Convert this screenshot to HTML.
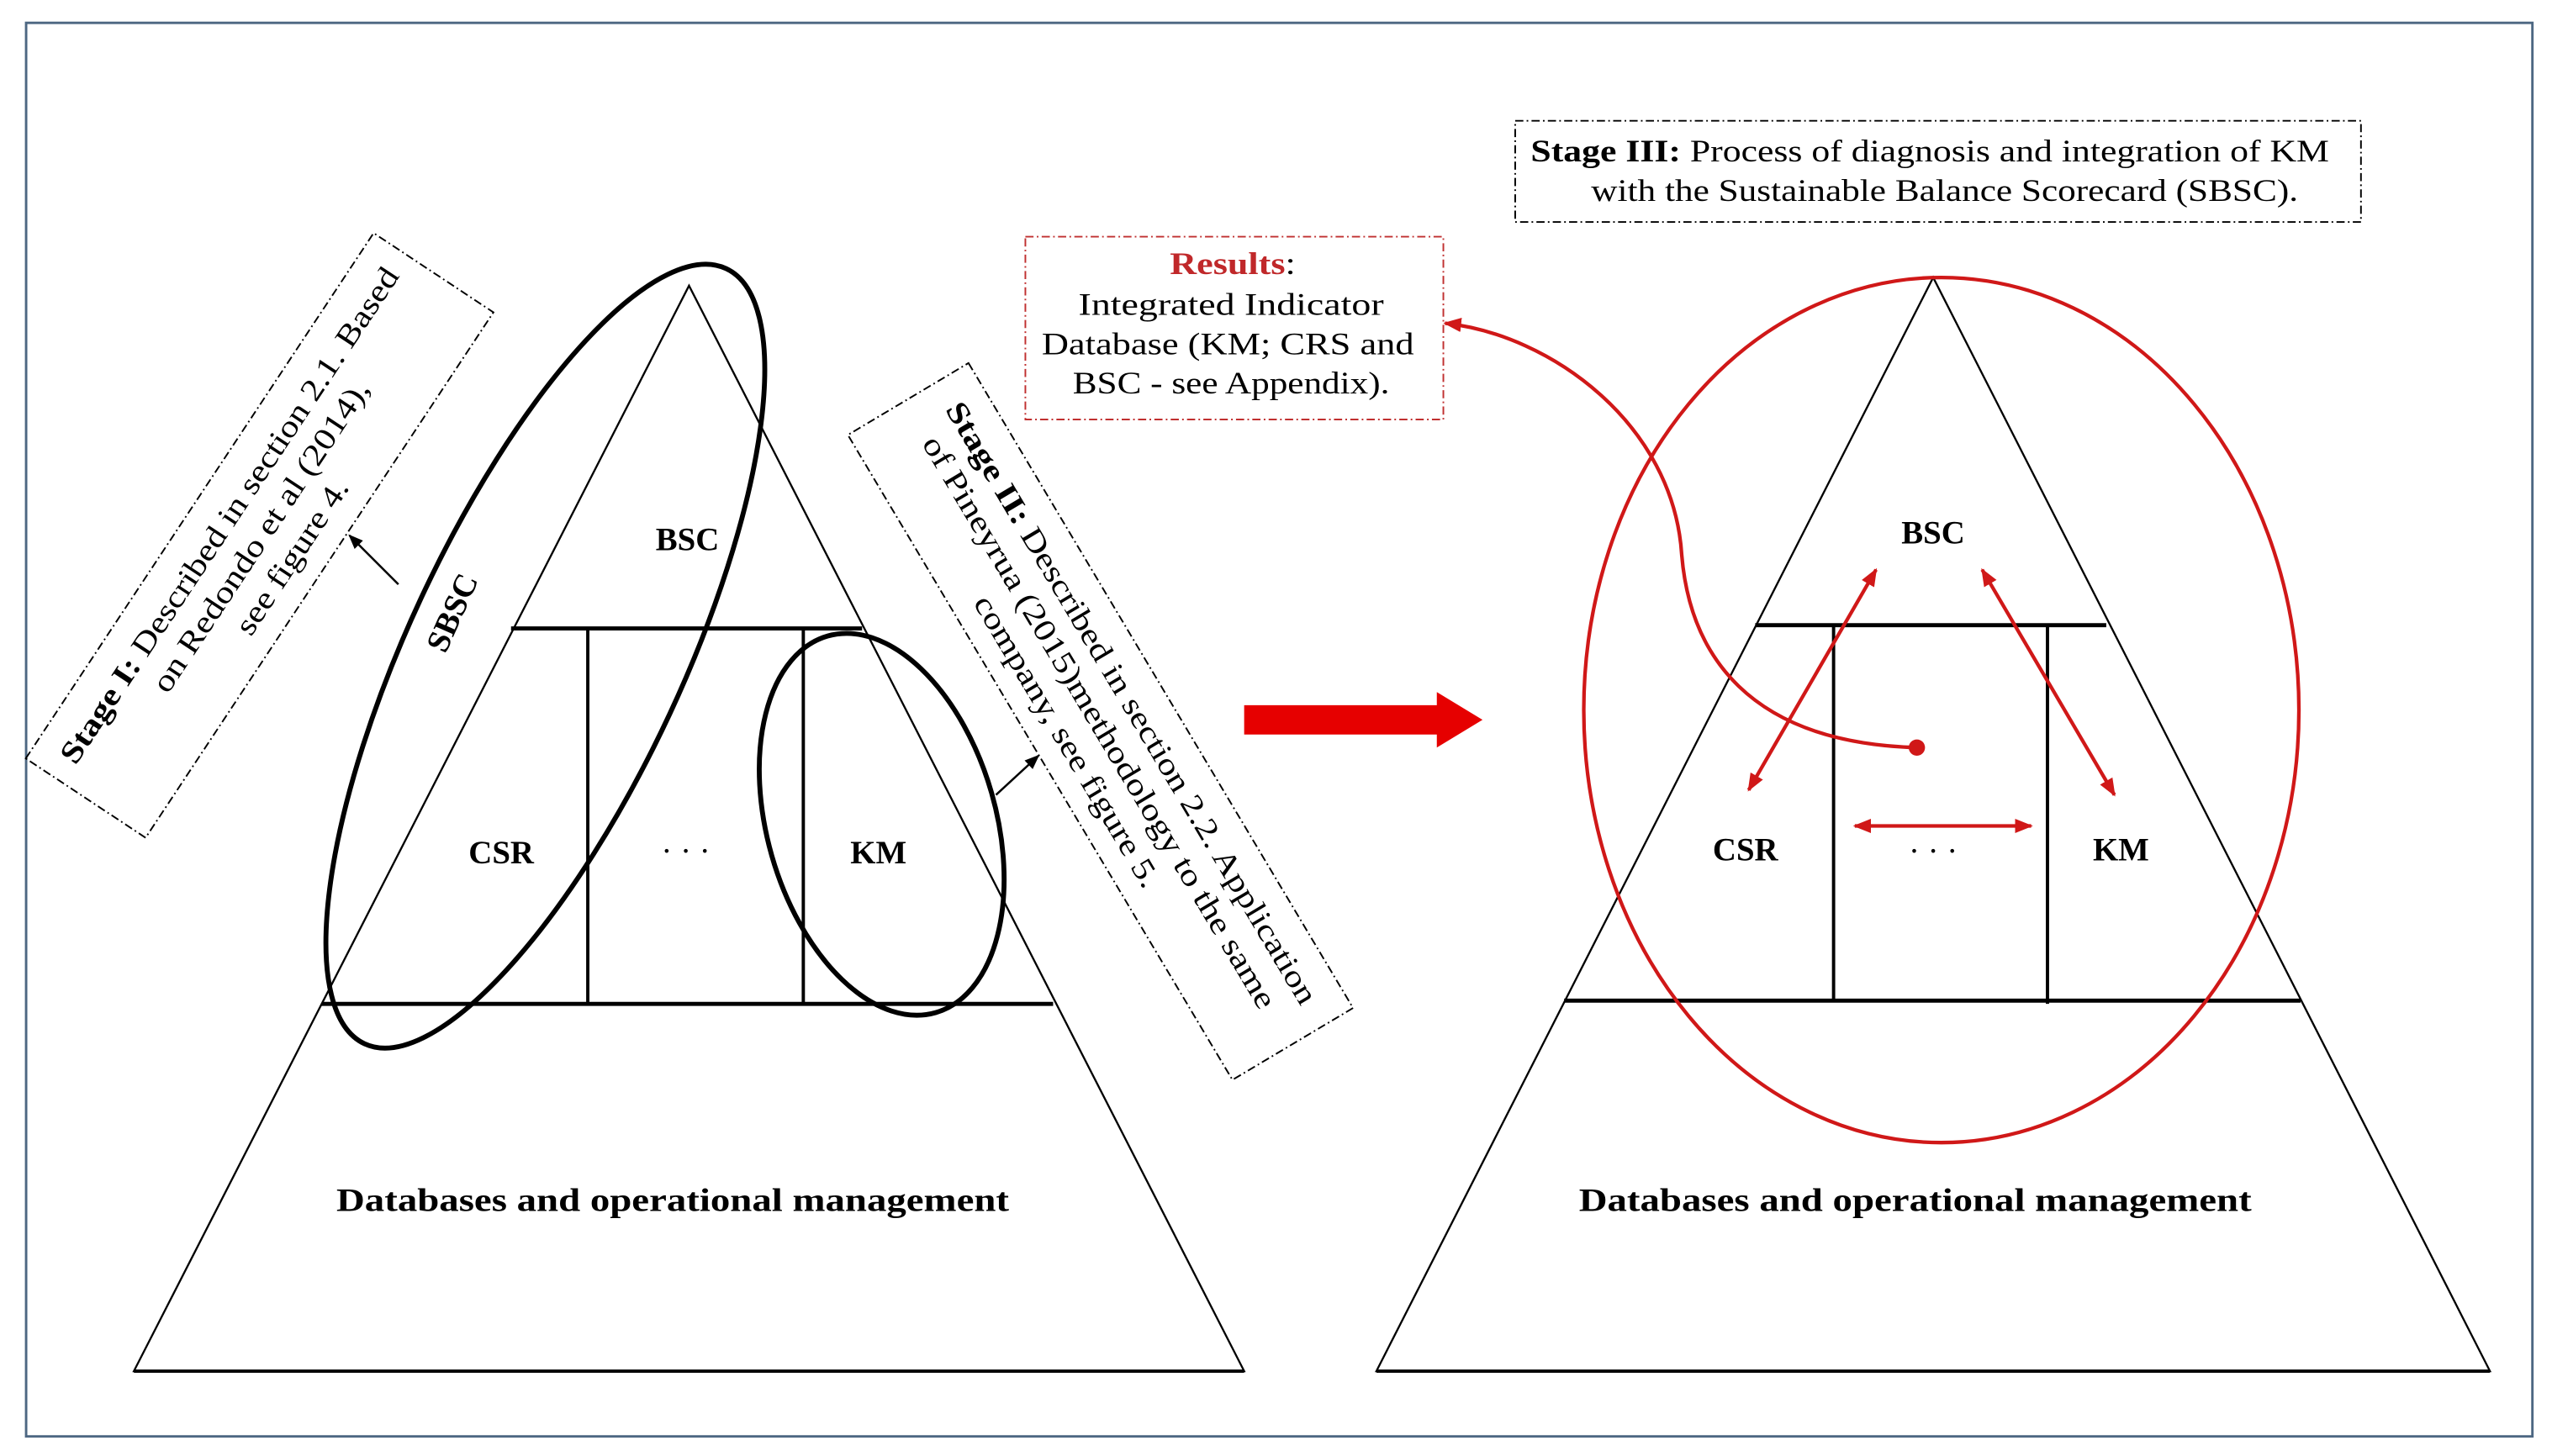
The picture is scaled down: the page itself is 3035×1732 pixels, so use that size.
<!DOCTYPE html>
<html><head><meta charset="utf-8"><style>
html,body{margin:0;padding:0;background:#fff;}
svg{display:block;}
text{font-family:"Liberation Serif",serif;}
</style></head><body>
<svg width="3035" height="1732" viewBox="0 0 1563 892" preserveAspectRatio="none" xmlns="http://www.w3.org/2000/svg">
<defs>
<marker id="ah" viewBox="0 0 10 10" refX="9" refY="5" markerWidth="7" markerHeight="7" orient="auto-start-reverse"><path d="M0,1 L10,5 L0,9 z" fill="#000"/></marker>
<marker id="rh" viewBox="0 0 10 10" refX="9" refY="5" markerWidth="5" markerHeight="5" orient="auto-start-reverse"><path d="M0,1 L10,5 L0,9 z" fill="#d01818"/></marker>
</defs>
<rect x="0" y="0" width="1563" height="892" fill="#fff"/>
<rect x="16" y="14" width="1535" height="866" fill="none" stroke="#4d6782" stroke-width="1.5"/>

<!-- LEFT -->
<polygon points="422,175 82,840 762,840" fill="none" stroke="#000" stroke-width="1.2"/>
<line x1="82" y1="840" x2="762" y2="840" stroke="#000" stroke-width="2"/>
<line x1="313" y1="385" x2="528" y2="385" stroke="#000" stroke-width="2.5"/>
<line x1="197" y1="615" x2="645" y2="615" stroke="#000" stroke-width="2.5"/>
<line x1="360" y1="385" x2="360" y2="615" stroke="#000" stroke-width="2"/>
<line x1="492" y1="385" x2="492" y2="615" stroke="#000" stroke-width="2"/>
<g font-weight="bold" font-size="20" text-anchor="middle">
<text x="421" y="337">BSC</text>
<text x="307" y="529">CSR</text>
<text x="538" y="529">KM</text>
<text x="412" y="742" textLength="412" lengthAdjust="spacingAndGlyphs">Databases and operational management</text>
<text x="1184" y="333">BSC</text>
<text x="1069" y="527">CSR</text>
<text x="1299" y="527">KM</text>
<text x="1173" y="742" textLength="412" lengthAdjust="spacingAndGlyphs">Databases and operational management</text>
</g>
<text x="420" y="528" font-size="20" text-anchor="middle">· · ·</text>
<text x="1184" y="528" font-size="20" text-anchor="middle">· · ·</text>

<ellipse cx="334" cy="402" rx="84" ry="262" transform="rotate(25 334 402)" fill="none" stroke="#000" stroke-width="3"/>
<text x="0" y="0" font-size="20" font-weight="bold" text-anchor="middle" transform="translate(283,378) rotate(-66)">SBSC</text>
<ellipse cx="540" cy="505" rx="70" ry="120" transform="rotate(-16 540 505)" fill="none" stroke="#000" stroke-width="3"/>

<!-- Stage I -->
<g transform="translate(159,328) rotate(-56.5)" font-size="19">
<rect x="-193" y="-44" width="386" height="88" fill="none" stroke="#000" stroke-width="1" stroke-dasharray="5,2,1,2"/>
<text x="0" y="-16" text-anchor="middle" textLength="360" lengthAdjust="spacingAndGlyphs"><tspan font-weight="bold">Stage I:</tspan> Described in section 2.1. Based</text>
<text x="0" y="7" text-anchor="middle" textLength="225" lengthAdjust="spacingAndGlyphs">on Redondo et al (2014),</text>
<text x="0" y="30" text-anchor="middle" textLength="110" lengthAdjust="spacingAndGlyphs">see figure 4.</text>
</g>
<line x1="244" y1="358" x2="214" y2="328" stroke="#000" stroke-width="1.3" marker-end="url(#ah)"/>

<!-- Stage II -->
<g transform="translate(674,442) rotate(59.2)" font-size="19">
<rect x="-230" y="-43" width="460" height="86" fill="none" stroke="#000" stroke-width="1" stroke-dasharray="5,2,1,2"/>
<text x="0" y="-16" text-anchor="middle" textLength="426" lengthAdjust="spacingAndGlyphs"><tspan font-weight="bold">Stage II:</tspan> Described in section 2.2. Application</text>
<text x="0" y="7" text-anchor="middle" textLength="405" lengthAdjust="spacingAndGlyphs">of Pineyrua (2015)methodology  to the same</text>
<text x="0" y="30" text-anchor="middle" textLength="205" lengthAdjust="spacingAndGlyphs">company, see figure 5.</text>
</g>
<line x1="610" y1="487" x2="636" y2="463" stroke="#000" stroke-width="1.3" marker-end="url(#ah)"/>

<!-- big red arrow -->
<polygon points="762,432 880,432 880,424 908,441 880,458 880,450 762,450" fill="#e60000"/>

<!-- Results -->
<rect x="628" y="145" width="256" height="112" fill="none" stroke="#c03030" stroke-width="1" stroke-dasharray="5,2,1,2"/>
<text x="755" y="168" font-size="19" text-anchor="middle" textLength="77" lengthAdjust="spacingAndGlyphs"><tspan fill="#c0282a" font-weight="bold">Results</tspan>:</text>
<text x="754" y="193" font-size="19" text-anchor="middle" textLength="187" lengthAdjust="spacingAndGlyphs">Integrated Indicator</text>
<text x="752" y="217" font-size="19" text-anchor="middle" textLength="228" lengthAdjust="spacingAndGlyphs">Database (KM; CRS and</text>
<text x="754" y="241" font-size="19" text-anchor="middle" textLength="194" lengthAdjust="spacingAndGlyphs">BSC - see Appendix).</text>

<!-- Stage III -->
<rect x="928" y="74" width="518" height="62" fill="none" stroke="#000" stroke-width="1" stroke-dasharray="5,2,1,2"/>
<text x="1182" y="99" font-size="19" text-anchor="middle" textLength="489" lengthAdjust="spacingAndGlyphs"><tspan font-weight="bold">Stage III:</tspan> Process of diagnosis and integration of KM</text>
<text x="1191" y="123" font-size="19" text-anchor="middle" textLength="433" lengthAdjust="spacingAndGlyphs">with the Sustainable Balance Scorecard (SBSC).</text>

<!-- RIGHT -->
<polygon points="1184,170 843,840 1525,840" fill="none" stroke="#000" stroke-width="1.2"/>
<line x1="843" y1="840" x2="1525" y2="840" stroke="#000" stroke-width="2"/>
<line x1="1075" y1="383" x2="1290" y2="383" stroke="#000" stroke-width="2.5"/>
<line x1="958" y1="613" x2="1409" y2="613" stroke="#000" stroke-width="2.5"/>
<line x1="1123" y1="383" x2="1123" y2="613" stroke="#000" stroke-width="2"/>
<line x1="1254" y1="383" x2="1254" y2="615" stroke="#000" stroke-width="2"/>

<ellipse cx="1189" cy="435" rx="219" ry="265" fill="none" stroke="#d01818" stroke-width="2.2"/>
<g stroke="#d01818" stroke-width="2.2" fill="none">
<line x1="1071" y1="484" x2="1149" y2="349" marker-start="url(#rh)" marker-end="url(#rh)"/>
<line x1="1214" y1="349" x2="1295" y2="487" marker-start="url(#rh)" marker-end="url(#rh)"/>
<line x1="1136" y1="506" x2="1244" y2="506" marker-start="url(#rh)" marker-end="url(#rh)"/>
<path d="M1174,458 C1070,455 1035,400 1030,340 C1025,260 950,205 885,198" marker-end="url(#rh)"/>
</g>
<circle cx="1174" cy="458" r="5" fill="#d01818"/>
</svg>
</body></html>
